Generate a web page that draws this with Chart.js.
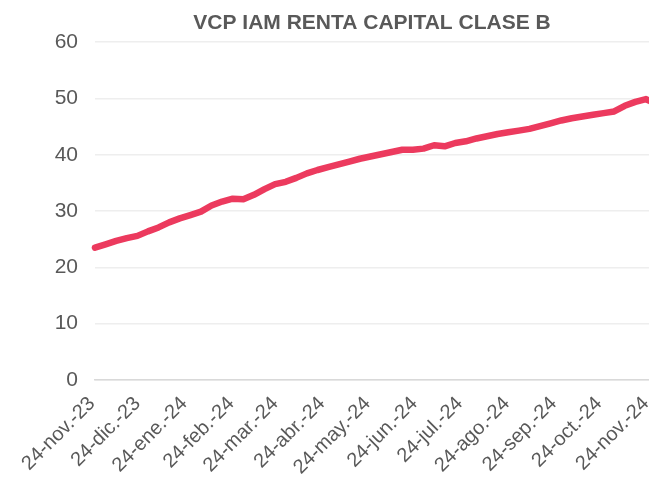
<!DOCTYPE html>
<html>
<head>
<meta charset="utf-8">
<script src="https://cdn.jsdelivr.net/npm/chart.js@4.4.1/dist/chart.umd.min.js"></script>
<style>
    html, body { margin: 0; padding: 0; background: #fff; }
    #wrap { width: 649px; height: 478px; }
</style>
</head>
<body>
<div id="wrap"><canvas id="chart-vcp"></canvas></div>
<script>
let chartTitle = 'VCP IAM RENTA CAPITAL CLASE B';

// etiquetas del eje x (una por mes) y su posicion en dias desde 24-nov.-23
let monthLabels = ['24-nov.-23', '24-dic.-23', '24-ene.-24', '24-feb.-24', '24-mar.-24', '24-abr.-24', '24-may.-24',
    '24-jun.-24', '24-jul.-24', '24-ago.-24', '24-sep.-24', '24-oct.-24', '24-nov.-24'];
let monthDays = [0, 30, 61, 92, 121, 152, 182, 213, 243, 274, 305, 335, 366];

// valor cuota semanal
let weekDays = [0, 7, 14, 21, 28, 35, 42, 49, 56, 63, 70, 77, 84, 91, 98, 105, 112, 119, 126, 133, 140, 147, 154,
    161, 168, 175, 182, 189, 196, 203, 210, 217, 224, 231, 238, 245, 252, 259, 266, 273, 280, 287, 294, 301, 308,
    315, 322, 329, 336, 343, 350, 357, 364, 366];
let vcpValues = [23.5, 24.1, 24.7, 25.2, 25.6, 26.4, 27.1, 28.0, 28.7, 29.3, 29.9, 31.0, 31.7, 32.2, 32.1, 32.9,
    33.9, 34.8, 35.2, 35.9, 36.7, 37.3, 37.8, 38.3, 38.8, 39.3, 39.7, 40.1, 40.5, 40.9, 40.9, 41.1, 41.7, 41.5,
    42.1, 42.4, 42.9, 43.3, 43.7, 44.0, 44.3, 44.6, 45.1, 45.6, 46.1, 46.5, 46.8, 47.1, 47.4, 47.7, 48.7, 49.4,
    49.9, 49.6];

let yTicks = { min: 0, max: 60, step: 10 };

let textColor = '#595959';
let fontFamily = '"Liberation Sans", Arial, sans-serif';

new Chart(document.getElementById('chart-vcp').getContext('2d'), {
    type: 'line',
    data: {
        datasets: [{
            label: chartTitle,
            data: weekDays.map((d, i) => ({ x: d, y: vcpValues[i] })),
            borderColor: '#ec3a5e',
            backgroundColor: '#ec3a5e',
            borderWidth: 6.5,
            pointRadius: 0,
            tension: 0,
            borderCapStyle: 'round',
            borderJoinStyle: 'round',
            clip: false
        }]
    },
    options: {
        responsive: true,
        maintainAspectRatio: false,
        animation: false,
        layout: { padding: 0 },
        plugins: {
            legend: { display: false },
            tooltip: { enabled: false },
            title: {
                display: true,
                text: chartTitle,
                color: textColor,
                fullSize: false,
                font: { family: fontFamily, size: 21, weight: 'bold' },
                padding: { top: 11, bottom: 6 }
            }
        },
        scales: {
            x: {
                type: 'linear',
                min: monthDays[0],
                max: monthDays[monthDays.length - 1],
                afterBuildTicks: (scale) => { scale.ticks = monthDays.map(v => ({ value: v })); },
                afterFit: (scale) => {
                    scale.height = 98;
                    scale.paddingLeft = 0;
                    scale.paddingRight = 0;
                },
                grid: { display: false },
                border: { color: '#d9d9d9', width: 1.5 },
                ticks: {
                    autoSkip: false,
                    minRotation: 45,
                    maxRotation: 45,
                    padding: 4,
                    labelOffset: -3,
                    color: textColor,
                    font: { family: fontFamily, size: 20 },
                    callback: (v, i) => monthLabels[i]
                }
            },
            y: {
                min: yTicks.min,
                max: yTicks.max,
                afterFit: (scale) => { scale.width = 95; },
                border: { display: false },
                grid: { color: '#eeeeee', lineWidth: 1.5, drawTicks: false },
                ticks: {
                    stepSize: yTicks.step,
                    padding: 17,
                    color: textColor,
                    font: { family: fontFamily, size: 21 }
                }
            }
        }
    }
});
</script>
</body>
</html>
